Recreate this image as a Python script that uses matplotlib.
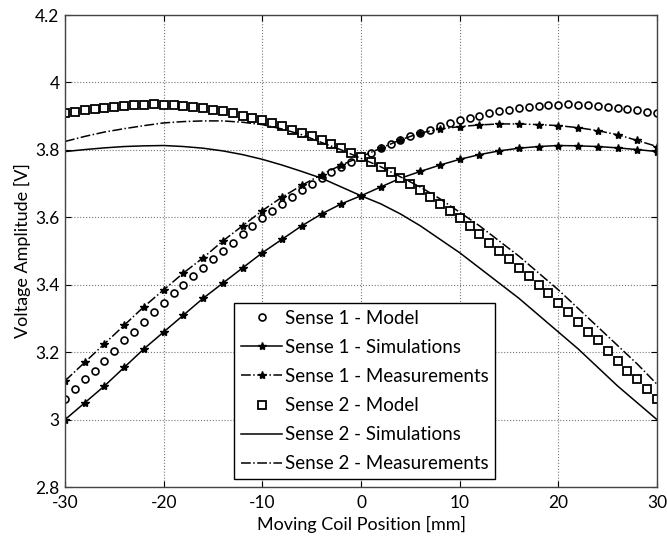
import matplotlib.pyplot as plt
from matplotlib.ticker import FormatStrFormatter

plt.rcParams["font.family"] = ["Lato", "DejaVu Sans"]
plt.rcParams["axes.unicode_minus"] = False

# positions [mm]
x_model = list(range(-30, 31))
x_step2 = list(range(-30, 31, 2))

# Sense 1 - Model (every 1 mm)
s1_model = [3.06, 3.09, 3.12, 3.145, 3.175, 3.205, 3.235, 3.26, 3.29, 3.32,
            3.345, 3.375, 3.40, 3.425, 3.45, 3.475, 3.50, 3.525, 3.55, 3.575,
            3.598, 3.62, 3.64, 3.66, 3.68, 3.70, 3.717, 3.733, 3.748, 3.763,
            3.778, 3.792, 3.805, 3.817, 3.828, 3.84, 3.85, 3.86, 3.87, 3.88,
            3.888, 3.895, 3.902, 3.908, 3.914, 3.919, 3.923, 3.927, 3.93, 3.932,
            3.934, 3.935, 3.934, 3.932, 3.93, 3.927, 3.924, 3.92, 3.917, 3.913,
            3.91]
# Sense 2 - Model (every 1 mm)
s2_model = [3.91, 3.913, 3.917, 3.92, 3.924, 3.927, 3.93, 3.932, 3.934, 3.935,
            3.934, 3.932, 3.93, 3.927, 3.923, 3.919, 3.914, 3.908, 3.902, 3.895,
            3.888, 3.88, 3.87, 3.86, 3.85, 3.84, 3.828, 3.817, 3.805, 3.792,
            3.778, 3.763, 3.748, 3.733, 3.717, 3.70, 3.68, 3.66, 3.64, 3.62,
            3.598, 3.575, 3.55, 3.525, 3.50, 3.475, 3.45, 3.425, 3.40, 3.375,
            3.345, 3.32, 3.29, 3.26, 3.235, 3.205, 3.175, 3.145, 3.12, 3.09,
            3.06]

# Simulations (every 2 mm)
s1_sim = [3.0, 3.05, 3.10, 3.155, 3.21, 3.26, 3.31, 3.36, 3.405, 3.45,
          3.495, 3.535, 3.575, 3.61, 3.64, 3.664, 3.69, 3.716, 3.736, 3.755,
          3.772, 3.786, 3.797, 3.805, 3.81, 3.813, 3.812, 3.81, 3.806, 3.801,
          3.795]
s2_sim = [3.795, 3.801, 3.806, 3.81, 3.812, 3.813, 3.81, 3.805, 3.797, 3.786,
          3.772, 3.755, 3.736, 3.716, 3.69, 3.664, 3.64, 3.61, 3.575, 3.535,
          3.495, 3.45, 3.405, 3.36, 3.31, 3.26, 3.21, 3.155, 3.10, 3.05,
          3.0]

# Measurements (every 2 mm)
s1_meas = [3.115, 3.17, 3.225, 3.28, 3.335, 3.385, 3.435, 3.48, 3.53, 3.575,
           3.62, 3.66, 3.695, 3.727, 3.755, 3.78, 3.805, 3.83, 3.85, 3.862,
           3.869, 3.874, 3.877, 3.877, 3.875, 3.872, 3.866, 3.857, 3.845, 3.828,
           3.81]
s2_meas = [3.825, 3.84, 3.853, 3.863, 3.872, 3.88, 3.884, 3.886, 3.886, 3.882,
           3.875, 3.862, 3.845, 3.822, 3.80, 3.775, 3.75, 3.72, 3.69, 3.655,
           3.615, 3.575, 3.53, 3.485, 3.435, 3.385, 3.33, 3.275, 3.22, 3.165,
           3.105]

fig = plt.figure(figsize=(6.67, 5.37), dpi=100)
ax = fig.add_axes([0.0975, 0.093, 0.8875, 0.879])

ax.plot(x_model, s1_model, linestyle="none", marker="o", markersize=5,
        markerfacecolor="white", markeredgecolor="black", markeredgewidth=1.2,
        label="Sense 1 - Model")
ax.plot(x_step2, s1_sim, color="black", linewidth=1.1, marker="*", markersize=6,
        label="Sense 1 - Simulations")
ax.plot(x_step2, s1_meas, color="black", linewidth=1.1, linestyle="-.", marker="*",
        markersize=6, label="Sense 1 - Measurements")
ax.plot(x_model, s2_model, linestyle="none", marker="s", markersize=5.5,
        markerfacecolor="white", markeredgecolor="black", markeredgewidth=1.3,
        label="Sense 2 - Model")
ax.plot(x_step2, s2_sim, color="black", linewidth=1.1, label="Sense 2 - Simulations")
ax.plot(x_step2, s2_meas, color="black", linewidth=1.1, linestyle="-.",
        label="Sense 2 - Measurements")

ax.set_xlim(-30, 30)
ax.set_ylim(2.8, 4.2)
ax.set_xticks(range(-30, 31, 10))
ax.set_yticks([2.8, 3.0, 3.2, 3.4, 3.6, 3.8, 4.0, 4.2])
ax.yaxis.set_major_formatter(FormatStrFormatter("%g"))
ax.tick_params(direction="in", top=True, right=True, length=4, labelsize=12.5)
ax.tick_params(axis="x", pad=6)
ax.tick_params(axis="y", pad=4)
ax.grid(True, linestyle=":", color="#777777", linewidth=0.8)
for sp in ax.spines.values():
    sp.set_color("#444444")
    sp.set_linewidth(1.0)

ax.set_xlabel("Moving Coil Position [mm]", fontsize=13, labelpad=3)
ax.set_ylabel("Voltage Amplitude [V]", fontsize=13, labelpad=3)

leg = ax.legend(loc="lower left", bbox_to_anchor=(0.286, 0.017), borderaxespad=0,
                fontsize=13.5, fancybox=False, framealpha=1, edgecolor="black",
                handlelength=2.2, handletextpad=0.15, labelspacing=0.65,
                borderpad=0.35)
leg.get_frame().set_linewidth(1.0)

fig.savefig("out.png", dpi=100)
